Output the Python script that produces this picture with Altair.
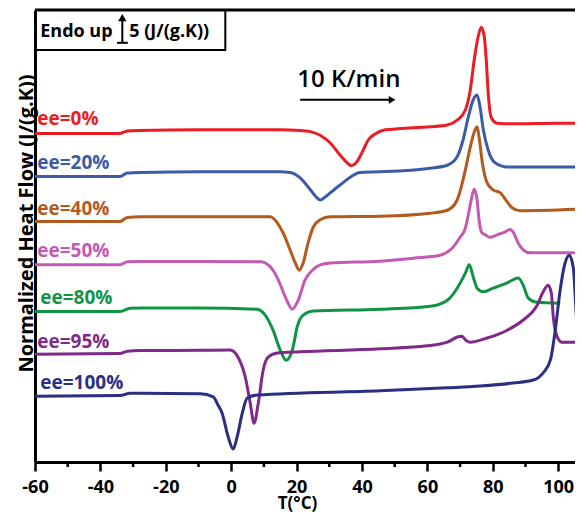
import altair as alt
import pandas as pd

# ---------------- data ----------------
series_names = ["ee=0%", "ee=20%", "ee=40%", "ee=50%", "ee=80%", "ee=95%", "ee=100%"]
series_colors = ["#ED1C24", "#3B5BA9", "#B35A1F", "#C45AB3", "#109444", "#7F2A8A", "#2B2F84"]

t_ee0 = [-60, -40, -34, -31.8, -28, -10, 15, 21.1, 24.2, 27.2, 30.3, 33.3, 35.5, 36.7, 38.2, 40.1, 41.9, 44.0,
         47.1, 51.7, 60.9, 66.1, 69.1, 71.6, 73.1, 74.3, 75.5, 76.5, 77.4, 78.0, 78.6, 79.5, 81.3, 86.2, 100, 107.6]
hf_ee0 = [55.1, 55.1, 55.1, 55.5, 55.6, 55.7, 55.7, 55.6, 55.4, 54.8, 53.5, 51.5, 50.2, 49.7, 50.2, 52.0, 54.0, 55.0,
          55.7, 55.9, 56.2, 56.5, 57.3, 59.0, 62.3, 67.3, 71.2, 72.8, 71.2, 67.3, 61.8, 57.8, 56.8, 56.7, 56.8, 56.8]

t_ee20 = [-60, -34, -31.8, -27.8, -9.5, 15, 18, 21.1, 24.2, 26, 27.2, 28.7, 30.3, 33.3, 36.4, 39.4, 45.6, 60.9,
          66.1, 69.1, 70.9, 72.5, 74.0, 75.2, 76.1, 77.1, 78.6, 80.7, 84.4, 105.2]
hf_ee20 = [47.9, 47.9, 48.5, 48.6, 48.7, 48.7, 48.6, 47.7, 45.7, 44.5, 44.0, 44.5, 45.2, 46.5, 47.8, 48.6, 48.7, 49.3,
           49.8, 51.2, 54.0, 57.8, 60.7, 61.5, 59.5, 55.7, 52.3, 50.2, 49.5, 49.5]

t_ee40 = [-60, -34, -31.8, -27.8, -9.5, 11.9, 14.1, 15.9, 18.0, 19.6, 20.8, 22.0, 23.5, 25.1, 27.2, 30.3, 45.6,
          60.9, 66.1, 69.1, 71.6, 73.1, 74.3, 75.2, 75.8, 76.8, 78.3, 80.1, 82.3, 84.4, 85.9, 88.4, 107.6]
hf_ee40 = [40.4, 40.4, 41.1, 41.2, 41.2, 41.2, 40.2, 38.5, 35.7, 33.5, 32.3, 33.5, 36.8, 39.5, 40.7, 41.2, 41.3,
           41.8, 42.3, 44.0, 49.0, 52.8, 55.3, 56.2, 54.5, 50.2, 46.8, 45.7, 45.2, 43.7, 42.7, 42.2, 42.5]

t_ee50 = [-60, -34, -31.8, -27.8, -9.5, 8.9, 11.9, 14.4, 16.5, 18.7, 20.5, 22.6, 24.8, 27.2, 30.3, 45.6, 55.7,
          63.9, 67.6, 70.0, 71.6, 72.5, 73.4, 74.3, 75.2, 75.8, 76.5, 77.7, 79.2, 81.3, 83.8, 85.3, 86.2, 87.8,
          89.3, 91.4, 107.6]
hf_ee50 = [33.2, 33.2, 33.7, 33.75, 33.75, 33.7, 32.9, 30.7, 27.9, 25.8, 27.3, 30.7, 32.3, 33.2, 33.5, 33.8, 34.3,
           34.8, 36.0, 37.8, 39.3, 41.5, 44.0, 45.8, 44.0, 40.7, 38.7, 38.2, 37.8, 38.2, 38.7, 39.1, 38.7, 36.8,
           35.7, 35.2, 35.2]

t_ee80 = [-60, -34, -30.9, -27.8, -9.5, 8.0, 10.4, 12.8, 15.0, 16.8, 18.7, 20.2, 22.0, 25.1, 45.6, 60.9, 66.1,
          69.1, 71.6, 72.8, 74.0, 75.2, 77.1, 80.1, 84.4, 87.8, 89.3, 90.8, 93.0, 100.6]
hf_ee80 = [25.4, 25.4, 25.95, 26.0, 26.0, 25.8, 24.8, 22.3, 19.0, 17.3, 19.0, 22.9, 24.8, 25.5, 25.8, 26.3, 27.3,
           29.3, 31.8, 33.2, 31.2, 29.3, 28.7, 29.3, 30.2, 31.0, 29.8, 27.7, 27.0, 26.8]

t_ee95 = [-60, -34, -31.8, -27.8, -9.5, -0.3, 2.1, 4.3, 5.8, 7.0, 8.3, 9.8, 11.3, 14.1, 21.1, 45.6, 59.9, 63.9,
          66.1, 69.4, 70.6, 71.6, 73.1, 78.3, 84.4, 89.3, 93.6, 95.4, 96.9, 97.9, 98.5, 99.7, 101.2, 107.6]
hf_ee95 = [18.3, 18.4, 18.8, 18.9, 18.95, 19.0, 17.8, 14.5, 10.2, 6.8, 10.2, 15.7, 17.8, 18.5, 18.7, 19.2, 19.7, 20.0,
           20.3, 21.2, 21.3, 20.7, 20.3, 21.0, 22.3, 24.0, 26.5, 28.7, 29.8, 28.5, 24.5, 21.2, 20.3, 20.3]

t_ee100 = [-60, -34, -30.9, -27.8, -9.5, -5.5, -4.0, -2.8, -0.9, 0.6, 1.8, 3.4, 4.9, 8.0, 45.6, 66.1, 76.1, 86.2,
           92.4, 95.4, 97.6, 99.1, 100.6, 102.1, 103.4, 104.6, 105.5, 106.4, 107.6]
hf_ee100 = [11.3, 11.4, 11.8, 11.8, 11.7, 11.2, 9.8, 8.5, 4.5, 2.5, 4.5, 8.5, 11.0, 11.5, 12.2, 12.7, 13.0, 13.5,
            14.0, 15.2, 17.3, 22.3, 29.0, 33.5, 34.8, 32.8, 25.2, 17.3, 14.5]

all_t = [t_ee0, t_ee20, t_ee40, t_ee50, t_ee80, t_ee95, t_ee100]
all_hf = [hf_ee0, hf_ee20, hf_ee40, hf_ee50, hf_ee80, hf_ee95, hf_ee100]

label_t = [-59.3, -59.3, -59.3, -59.3, -58.4, -59.3, -58.4]
label_hf = [57.5, 50.2, 42.5, 35.5, 27.7, 20.3, 13.5]

major_ticks = [-60, -40, -20, 0, 20, 40, 60, 80, 100]
minor_ticks = [-50, -30, -10, 10, 30, 50, 70, 90]

endo_box_t = [-59.7, -1.8]
endo_box_hf = [69.0, 75.6]
endo_text = "Endo up"
endo_text_pos = [-58.4, 72.0]
scale_bar_t = -33.3
scale_bar_hf = [70.2, 74.0]
scale_head_hf = 74.4
scale_cap_t = [-34.9, -31.6]
scale_text = "5 (J/(g.K))"
scale_text_pos = [-31.2, 72.0]
rate_text = "10 K/min"
rate_text_pos = [20.2, 64.0]
rate_arrow_t = [21.1, 48.3]
rate_arrow_hf = 60.7
rate_head_t = 49.2

# ---------------- build tables ----------------
rows = []
for name, ts, hs in zip(series_names, all_t, all_hf):
    for i, (t, h) in enumerate(zip(ts, hs)):
        rows.append({"T": t, "HF": h, "series": name, "i": i})
df = pd.DataFrame(rows)

labels_df = pd.DataFrame({"T": label_t, "HF": label_hf, "series": series_names})

W, H = 540, 452
X_MAX = -60 + W / 3.27
Y_MIN = 2 / 6.0
FONT = "Open Sans"
X_TITLE = "T(°C)"
Y_TITLE = "Normalized Heat Flow (J/(g.K))"
x_scale = alt.Scale(domain=[-60, X_MAX], nice=False, zero=False)
y_scale = alt.Scale(domain=[Y_MIN, 75.67], nice=False, zero=False)
color_scale = alt.Scale(domain=series_names, range=series_colors)

x_axis = alt.Axis(
    values=major_ticks, labelExpr="toString(datum.value)", tickSize=9, tickWidth=2.5,
    tickColor="black", domainColor="black", domainWidth=3, labelFont=FONT, labelFontSize=18,
    labelFontWeight="bold", labelColor="black", labelBaseline="alphabetic", labelPadding=21,
    labelFlush=False, labelOverlap=False, grid=False, titleFont=FONT, titleFontSize=17,
    titleFontWeight="bold", titleColor="black", titleX=262, titleY=46,
    titleBaseline="alphabetic", titleAlign="center",
)
y_axis = alt.Axis(
    labels=False, ticks=False, grid=False, domainColor="black", domainWidth=3,
    titleFont=FONT, titleFontSize=20, titleFontWeight="bold", titleColor="black",
    titleAngle=270, titleX=-3, titleY=213, titleBaseline="alphabetic", titleAlign="center",
)


def X(field):
    return alt.X(field, scale=x_scale, axis=x_axis, title=X_TITLE)


def Y(field):
    return alt.Y(field, scale=y_scale, axis=y_axis, title=Y_TITLE)


curves = alt.Chart(df).mark_line(strokeWidth=3, interpolate="monotone", clip=True).encode(
    x=X("T:Q"), y=Y("HF:Q"),
    color=alt.Color("series:N", scale=color_scale, legend=None),
    order=alt.Order("i:Q"),
)

labels = alt.Chart(labels_df).mark_text(
    align="left", baseline="middle", font=FONT, fontWeight="bold", fontSize=19
).encode(
    x=X("T:Q"), y=Y("HF:Q"),
    text="series:N",
    color=alt.Color("series:N", scale=color_scale, legend=None),
)

minor = alt.Chart(pd.DataFrame({"T": minor_ticks})).mark_rule(color="black", strokeWidth=2.5).encode(
    x=X("T:Q"), y=alt.value(H), y2=alt.value(H + 5),
)

top_border = alt.Chart(pd.DataFrame({"a": [0]})).mark_rule(color="black", strokeWidth=3).encode(
    x=alt.value(0), x2=alt.value(W), y=alt.value(0)
)

box = alt.Chart(pd.DataFrame({"t1": [endo_box_t[0]], "t2": [endo_box_t[1]],
                              "h1": [endo_box_hf[0]], "h2": [endo_box_hf[1]]})).mark_rect(
    fill="white", stroke="black", strokeWidth=2
).encode(x=X("t1:Q"), x2="t2:Q", y=Y("h1:Q"), y2="h2:Q")

ann_text_df = pd.DataFrame({
    "T": [endo_text_pos[0], scale_text_pos[0]],
    "HF": [endo_text_pos[1], scale_text_pos[1]],
    "txt": [endo_text, scale_text],
})
ann_text = alt.Chart(ann_text_df).mark_text(
    align="left", baseline="middle", font=FONT, fontWeight="bold", fontSize=18, color="black"
).encode(x=X("T:Q"), y=Y("HF:Q"), text="txt:N")

bar_stem = alt.Chart(pd.DataFrame({"T": [scale_bar_t], "h1": [scale_bar_hf[0]], "h2": [scale_bar_hf[1]]})).mark_rule(
    color="black", strokeWidth=2
).encode(x=X("T:Q"), y=Y("h1:Q"), y2="h2:Q")

bar_cap = alt.Chart(pd.DataFrame({"t1": [scale_cap_t[0]], "t2": [scale_cap_t[1]], "h": [scale_bar_hf[0]]})).mark_rule(
    color="black", strokeWidth=2
).encode(x=X("t1:Q"), x2="t2:Q", y=Y("h:Q"))

bar_head = alt.Chart(pd.DataFrame({"T": [scale_bar_t], "h": [scale_head_hf]})).mark_point(
    shape="triangle-up", filled=True, color="black", size=70, opacity=1
).encode(x=X("T:Q"), y=Y("h:Q"))

rate_label = alt.Chart(pd.DataFrame({"T": [rate_text_pos[0]], "HF": [rate_text_pos[1]], "txt": [rate_text]})).mark_text(
    align="left", baseline="middle", font=FONT, fontWeight=600, fontSize=24, color="black"
).encode(x=X("T:Q"), y=Y("HF:Q"), text="txt:N")

rate_line = alt.Chart(pd.DataFrame({"t1": [rate_arrow_t[0]], "t2": [rate_arrow_t[1]], "h": [rate_arrow_hf]})).mark_rule(
    color="black", strokeWidth=2
).encode(x=X("t1:Q"), x2="t2:Q", y=Y("h:Q"))

rate_head = alt.Chart(pd.DataFrame({"T": [rate_head_t], "h": [rate_arrow_hf]})).mark_point(
    shape="triangle-right", filled=True, color="black", size=60, opacity=1
).encode(x=X("T:Q"), y=Y("h:Q"))

chart = alt.layer(
    curves, minor, top_border, labels, box, ann_text, bar_stem, bar_cap, bar_head,
    rate_label, rate_line, rate_head,
).properties(
    width=W, height=H,
    padding={"left": 27, "right": 0, "top": 2, "bottom": 51},
    autosize=alt.AutoSizeParams(type="none"),
    background="white",
).configure_view(stroke=None)

chart.save("out.html", embed_options={"renderer": "svg", "actions": False})
